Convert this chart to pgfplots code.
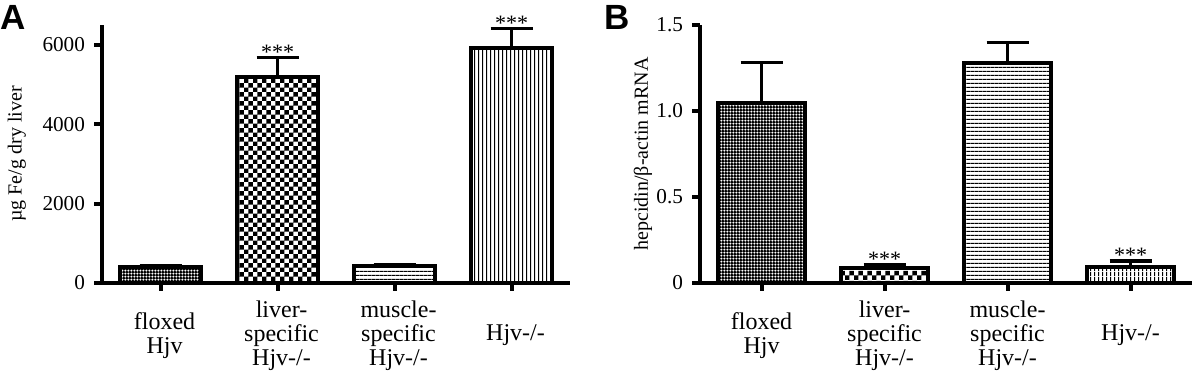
\documentclass[border=0pt]{standalone}
\usepackage{fontspec}
\setmainfont{Liberation Serif}
\newfontfamily\arial{Liberation Sans}
\usepackage{pgfplots}
\pgfplotsset{compat=1.18}
\usetikzlibrary{patterns}

\pgfdeclarepatternformonly{finechk}{\pgfqpoint{0pt}{0pt}}{\pgfqpoint{1.4pt}{1.4pt}}{\pgfqpoint{1.4pt}{1.4pt}}{%
  \pgfpathrectangle{\pgfqpoint{0pt}{0pt}}{\pgfqpoint{1.4pt}{0.8pt}}%
  \pgfpathrectangle{\pgfqpoint{0pt}{0.8pt}}{\pgfqpoint{0.8pt}{0.6pt}}%
  \pgfusepath{fill}}
\pgfdeclarepatternformonly{bigchk}{\pgfqpoint{0pt}{0pt}}{\pgfqpoint{4.7pt}{4.7pt}}{\pgfqpoint{4.7pt}{4.7pt}}{%
  \pgfpathrectangle{\pgfqpoint{0pt}{0pt}}{\pgfqpoint{2.35pt}{2.35pt}}%
  \pgfpathrectangle{\pgfqpoint{2.35pt}{2.35pt}}{\pgfqpoint{2.35pt}{2.35pt}}%
  \pgfusepath{fill}}
\pgfdeclarepatternformonly{hlns}{\pgfqpoint{0pt}{0pt}}{\pgfqpoint{2.15pt}{2.15pt}}{\pgfqpoint{2.15pt}{2.15pt}}{%
  \pgfpathrectangle{\pgfqpoint{0pt}{0pt}}{\pgfqpoint{2.15pt}{0.65pt}}%
  \pgfusepath{fill}}
\pgfdeclarepatternformonly{vlns}{\pgfqpoint{0pt}{0pt}}{\pgfqpoint{2.2pt}{2.2pt}}{\pgfqpoint{2.2pt}{2.2pt}}{%
  \pgfpathrectangle{\pgfqpoint{0pt}{0pt}}{\pgfqpoint{0.65pt}{2.2pt}}%
  \pgfusepath{fill}}

\tikzset{starlbl/.style={anchor=base, inner sep=0pt, font=\fontsize{11}{11}\selectfont, yshift=-1pt}}

\pgfplotsset{
  mybar/.style={ybar, bar width=0.7, draw=black, line width=2pt, pattern=#1,
    error bars/.cd, y dir=plus, y explicit, error mark=|,
    error bar style={line width=1.6pt, draw=black, fill=none, solid},
    error mark options={line width=1.6pt, mark size=10.5pt, draw=black, fill=none}},
  mypanel/.style={
    scale only axis, anchor=south west, clip=false,
    xmin=-0.5, xmax=3.5, ymin=0,
    axis x line=bottom, axis y line=left,
    axis line style={line width=2pt, -},
    xtick={0,1,2,3},
    xticklabels={{floxed\\Hjv},{liver-\\specific\\Hjv-/-},{muscle-\\specific\\Hjv-/-},{Hjv-/-}},
    tick align=outside, major tick length=3.8pt,
    tick style={line width=2pt, black},
    x tick label style={align=center, anchor=center, yshift=-22.5pt, font=\fontsize{12}{12}\selectfont},
    y tick label style={font=\fontsize{10.6}{12}\selectfont, xshift=-1.2pt},
    /pgf/number format/assume math mode=true,
    ylabel style={font=\fontsize{11.6}{12}\selectfont},
  },
}

\begin{document}
\begin{tikzpicture}
\path[use as bounding box] (0pt,0pt) rectangle (596pt,187pt);

\begin{axis}[mypanel,
  at={(51pt,45.5pt)}, width=234pt, height=129pt,
  ymax=6500, ytick={0,2000,4000,6000},
  x tick label style={xshift=2pt},
  /pgf/number format/set thousands separator={},
  every axis y label/.style={at={(axis description cs:-0.182,0.5)}, rotate=90, anchor=center},
  ylabel={µg Fe/g dry liver},
]
\addplot[mybar=finechk] coordinates {(0,400) +- (0,40)};
\addplot[mybar=bigchk] coordinates {(1,5180) +- (0,510)};
\addplot[mybar=hlns] coordinates {(2,430) +- (0,40)};
\addplot[mybar=vlns] coordinates {(3,5930) +- (0,490)};
\node[starlbl] at (axis cs:1,5690) {***};
\node[starlbl] at (axis cs:3,6420) {***};
\end{axis}

\begin{axis}[mypanel,
  at={(350pt,45.5pt)}, width=246pt, height=129pt,
  ymax=1.5, ytick={0,0.5,1.0,1.5}, yticklabels={0,0.5,1.0,1.5},
  every axis y label/.style={at={(axis description cs:-0.116,0.5)}, rotate=90, anchor=center},
  ylabel={hepcidin/β-actin mRNA},
]
\addplot[mybar=finechk] coordinates {(0,1.048) +- (0,0.235)};
\addplot[mybar=bigchk] coordinates {(1,0.089) +- (0,0.020)};
\addplot[mybar=hlns] coordinates {(2,1.281) +- (0,0.116)};
\addplot[mybar=vlns] coordinates {(3,0.093) +- (0,0.035)};
\node[starlbl] at (axis cs:1,0.109) {***};
\node[starlbl] at (axis cs:3,0.128) {***};
\end{axis}

\node[anchor=north west, inner sep=0pt, font=\arial\bfseries\fontsize{17.5}{17.5}\selectfont] at (0pt,184.5pt) {A};
\node[anchor=north west, inner sep=0pt, font=\arial\bfseries\fontsize{17.5}{17.5}\selectfont] at (302pt,184.5pt) {B};
\end{tikzpicture}
\end{document}
